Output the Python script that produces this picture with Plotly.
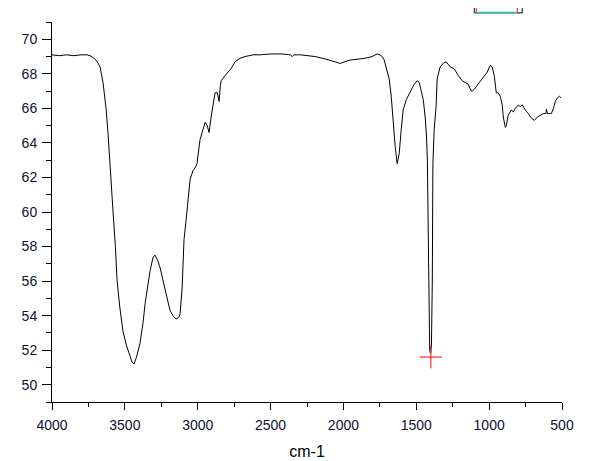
"""
FTIR transmittance spectrum, Origin-style look.
"""
import plotly.graph_objects as go

# Spectrum (wavenumber in cm-1, transmittance in %)
wavenumber = [
    4000, 3950, 3900, 3850, 3800, 3760, 3739, 3710, 3690, 3670, 3650, 3629, 3615, 3602,
    3581, 3565, 3554, 3535, 3513, 3490, 3464, 3450, 3437, 3420, 3396, 3375, 3361, 3340,
    3327, 3306, 3293, 3275, 3259, 3240, 3224, 3205, 3190, 3170, 3149, 3130, 3121, 3107,
    3094, 3080, 3066, 3052, 3032, 3015, 3005, 2995, 2984, 2963, 2949, 2935, 2922, 2908,
    2894, 2881, 2865, 2853, 2845, 2839, 2812, 2790, 2771, 2744, 2710, 2675, 2620, 2572,
    2500, 2420, 2366, 2350, 2340, 2297, 2250, 2194, 2120, 2057, 2022, 1990, 1954, 1900,
    1851, 1803, 1785, 1769, 1750, 1734, 1720, 1707, 1686, 1672, 1659, 1645, 1631, 1617,
    1603, 1590, 1569, 1542, 1514, 1494, 1480, 1466, 1452, 1439, 1430, 1424, 1419, 1414,
    1408, 1402, 1396, 1390, 1386, 1377, 1364, 1357, 1336, 1316, 1295, 1267, 1240, 1212,
    1185, 1165, 1144, 1123, 1116, 1103, 1075, 1040, 1013, 992, 979, 965, 951, 938, 924,
    910, 903, 889, 882, 869, 848, 834, 820, 800, 786, 772, 752, 731, 717, 690, 669, 649,
    628, 610, 607, 600, 587, 573, 559, 546, 532, 518, 505,
]
transmittance = [
    69.1, 69.05, 69.1, 69.05, 69.1, 69.1, 69.05, 68.9, 68.7, 68.4, 67.5, 66.0, 64.5, 62.6,
    60.0, 58.0, 56.1, 54.5, 53.1, 52.3, 51.6, 51.3, 51.2, 51.6, 52.4, 53.6, 54.7, 55.8,
    56.6, 57.4, 57.5, 57.2, 56.8, 56.1, 55.5, 54.8, 54.3, 54.0, 53.8, 53.9, 54.1, 55.6,
    58.4, 59.5, 60.7, 61.9, 62.4, 62.6, 62.8, 63.5, 64.2, 64.8, 65.2, 65.0, 64.6, 65.5,
    66.3, 66.9, 66.9, 66.4, 67.3, 67.6, 67.9, 68.1, 68.3, 68.7, 68.9, 69.0, 69.1, 69.1,
    69.15, 69.15, 69.1, 69.0, 69.1, 69.1, 69.05, 69.0, 68.85, 68.7, 68.6, 68.7, 68.8, 68.85,
    68.9, 69.0, 69.1, 69.15, 69.1, 69.0, 68.8, 68.4, 67.7, 66.7, 65.2, 63.8, 62.8, 63.4,
    64.8, 65.9, 66.5, 66.9, 67.4, 67.6, 67.5, 67.0, 66.5, 65.5, 64.4, 63.0, 60.0, 55.0,
    52.0, 51.8, 52.3, 56.0, 62.8, 64.8, 66.1, 67.7, 68.4, 68.6, 68.7, 68.4, 68.3, 67.9,
    67.6, 67.5, 67.4, 67.0, 67.0, 67.1, 67.4, 67.8, 68.1, 68.5, 68.4, 67.9, 66.9, 66.9, 66.7,
    66.2, 65.5, 64.9, 65.0, 65.6, 65.9, 65.8, 66.0, 66.2, 66.1, 66.2, 65.9, 65.7, 65.5, 65.3, 65.5, 65.6,
    65.7, 65.7, 65.95, 65.7, 65.7, 65.7, 66.0, 66.4, 66.6, 66.7, 66.6,
]

# data cursor left on the minimum
cursor_x = [1400]
cursor_y = [51.6]

FONT = "Liberation Sans, Arial, sans-serif"
TICK_COLOR = "#101030"

fig = go.Figure()
fig.add_trace(go.Scatter(
    x=wavenumber, y=transmittance, mode="lines",
    line=dict(color="black", width=1), hoverinfo="skip",
))
fig.add_trace(go.Scatter(
    x=[cursor_x[0], cursor_x[0]], y=[cursor_y[0] + 0.2, cursor_y[0] + 0.5], mode="lines",
    line=dict(color="cyan", width=1), hoverinfo="skip",
))
fig.add_trace(go.Scatter(
    x=cursor_x, y=cursor_y, mode="markers",
    marker=dict(symbol="cross-thin", size=16, color="red", line=dict(color="red", width=1)),
    hoverinfo="skip",
))

# leftover selection box clipped at the top of the window
fig.add_shape(type="rect", xref="x", yref="paper", x0=1102, x1=773, y0=1.024, y1=1.05,
              line=dict(color="black", width=1), fillcolor="white")
for xv in (1088, 807):
    fig.add_shape(type="line", xref="x", yref="paper", x0=xv, x1=xv, y0=1.026, y1=1.05,
                  line=dict(color="red", width=1))
fig.add_shape(type="line", xref="x", yref="paper", x0=1088, x1=807, y0=1.026, y1=1.026,
              line=dict(color="cyan", width=1))

# page body adds an 8px margin, so the figure is sized to fit inside the window
fig.update_layout(
    width=590, height=453,
    margin=dict(l=44, r=36, t=14, b=59),
    paper_bgcolor="white", plot_bgcolor="white",
    showlegend=False,
    font=dict(family=FONT, size=14, color=TICK_COLOR),
)
fig.update_xaxes(
    range=[4000, 500], tickmode="linear", tick0=500, dtick=500,
    ticks="outside", ticklen=7, tickcolor="black", tickwidth=1,
    minor=dict(dtick=250, ticks="outside", ticklen=4, tickcolor="black"),
    showline=True, linecolor="black", linewidth=1,
    showgrid=False, zeroline=False, automargin=False,
    ticklabelstandoff=3,
    title=dict(text="cm-1", font=dict(family=FONT, size=16, color="black"), standoff=14),
    tickfont=dict(family=FONT, size=14, color=TICK_COLOR),
)
fig.update_yaxes(
    range=[49, 71], tickmode="linear", tick0=50, dtick=2,
    ticks="outside", ticklen=9, tickcolor="black", tickwidth=1,
    minor=dict(dtick=1, ticks="outside", ticklen=5, tickcolor="black"),
    showline=True, linecolor="black", linewidth=1,
    showgrid=False, zeroline=False, automargin=False,
    ticklabelstandoff=2,
    tickfont=dict(family=FONT, size=14, color=TICK_COLOR),
)

fig.write_html("out.html")
